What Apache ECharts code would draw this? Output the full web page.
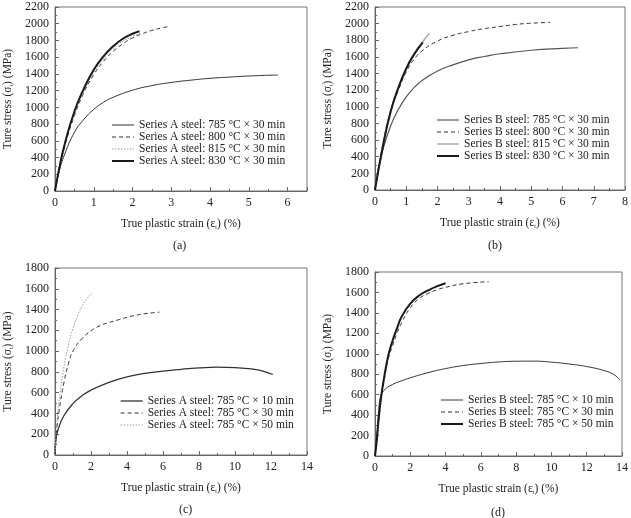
<!DOCTYPE html>
<html>
<head>
<meta charset="utf-8">
<script src="https://cdn.jsdelivr.net/npm/echarts@6/dist/echarts.min.js"></script>
<style>
    html, body { margin: 0; padding: 0; background: #fff; }
    #chart { width: 631px; height: 518px; }
</style>
</head>
<body>
<div id="chart"></div>
<script>
    // (a) Series A, 30 min, four temperatures  [strain %, stress MPa]
    const a785 = [[0,0],[0.1,220],[0.25,440],[0.5,700],[0.75,860],[1,975],[1.25,1060],[1.5,1120],[2,1205],[2.5,1260],[3,1298],[3.5,1325],[4,1347],[4.5,1362],[5,1375],[5.75,1387]];
    const a800 = [[0,0],[0.1,230],[0.25,530],[0.5,900],[0.75,1180],[1,1390],[1.25,1550],[1.5,1670],[1.75,1760],[2,1830],[2.25,1880],[2.5,1920],[2.75,1950],[2.93,1965]];
    const a815 = [[0,0],[0.1,240],[0.25,545],[0.5,925],[0.75,1200],[1,1420],[1.25,1580],[1.5,1700],[1.75,1790],[2,1850],[2.2,1885]];
    const a830 = [[0,0],[0.1,250],[0.25,560],[0.5,950],[0.75,1230],[1,1450],[1.25,1610],[1.5,1730],[1.75,1820],[2,1880],[2.18,1910]];

    // (b) Series B, 30 min, four temperatures
    const b785 = [[0,0],[0.1,230],[0.25,480],[0.5,770],[0.75,970],[1,1120],[1.25,1230],[1.5,1315],[2,1430],[2.5,1505],[3,1565],[3.5,1605],[4,1638],[5,1680],[6,1703],[6.5,1710]];
    const b800 = [[0,0],[0.25,550],[0.5,950],[0.75,1200],[1,1420],[1.25,1570],[1.5,1670],[2,1790],[2.5,1860],[3,1905],[3.5,1940],[4,1965],[4.5,1990],[5,2005],[5.6,2015]];
    const b815 = [[0,0],[0.25,530],[0.5,950],[0.75,1240],[1,1470],[1.25,1640],[1.5,1770],[1.74,1885]];
    const b830 = [[0,0],[0.25,520],[0.5,940],[0.75,1230],[1,1460],[1.25,1630],[1.53,1775]];

    // (c) Series A, 785 °C, three holding times
    const c10 = [[0,0],[0.05,150],[0.2,260],[0.5,380],[1,495],[1.5,570],[2,625],[3,700],[4,752],[5,785],[6,808],[7,825],[8,838],[9,845],[10,842],[11,826],[11.5,810],[12.1,775]];
    const c30 = [[0,0],[0.1,250],[0.25,450],[0.5,700],[0.75,880],[1,1000],[1.5,1120],[2,1195],[2.5,1245],[3,1275],[3.5,1300],[4,1325],[4.5,1345],[5,1360],[5.8,1375]];
    const c50 = [[0,0],[0.1,300],[0.25,550],[0.5,850],[0.75,1060],[1,1220],[1.25,1340],[1.5,1430],[1.75,1500],[2.07,1560]];

    // (d) Series B, 785 °C, three holding times
    const d10 = [[0,0],[0.1,200],[0.2,420],[0.3,570],[0.5,640],[1,700],[1.5,735],[2,765],[3,815],[4,855],[5,885],[6,905],[7,920],[8,927],[9,928],[10,918],[11,900],[12,875],[13,835],[13.5,800],[13.8,760],[13.9,740]];
    const d30 = [[0,0],[0.1,150],[0.2,340],[0.35,560],[0.5,720],[0.75,950],[1,1080],[1.25,1200],[1.5,1300],[2,1450],[2.5,1540],[3,1590],[3.5,1625],[4,1650],[5,1685],[6.44,1705]];
    const d50 = [[0,0],[0.1,150],[0.2,350],[0.35,580],[0.5,750],[0.75,980],[1,1130],[1.25,1250],[1.5,1360],[2,1490],[2.5,1570],[3,1620],[3.5,1660],[4,1690]];

    const namesA = ['Series A steel: 785 °C × 30 min', 'Series A steel: 800 °C × 30 min', 'Series A steel: 815 °C × 30 min', 'Series A steel: 830 °C × 30 min'];
    const namesB = ['Series B steel: 785 °C × 30 min', 'Series B steel: 800 °C × 30 min', 'Series B steel: 815 °C × 30 min', 'Series B steel: 830 °C × 30 min'];
    const namesC = ['Series A steel: 785 °C × 10 min', 'Series A steel: 785 °C × 30 min', 'Series A steel: 785 °C × 50 min'];
    const namesD = ['Series B steel: 785 °C × 10 min', 'Series B steel: 785 °C × 30 min', 'Series B steel: 785 °C × 50 min'];
    const captions = ['(a)', '(b)', '(c)', '(d)'];

    const FONT = 'Liberation Serif';
    const TXT = '#222';

    // line looks
    const thin = { color: '#333', width: 1, type: 'solid' };
    const dash = { color: '#333', width: 1, type: [4, 3] };
    const dot = { color: '#999', width: 1, type: [1.5, 1.5] };
    const thick = { color: '#1a1a1a', width: 2, type: 'solid' };
    const light = { color: '#aaa', width: 1.5, type: 'solid' };

    let myChart = echarts.init(document.getElementById('chart'), null, { renderer: 'canvas' });

    const grids = [
        { left: 55, top: 7, width: 252, height: 184 },
        { left: 375, top: 7, width: 250, height: 183 },
        { left: 55, top: 268, width: 252, height: 187 },
        { left: 375, top: 272, width: 250, height: 184 }
    ].map(g => Object.assign(g, { show: true, borderColor: '#777', borderWidth: 1 }));

    const nameStyle = {
        fontFamily: FONT, fontSize: 11.5, color: TXT,
        rich: { s: { fontFamily: FONT, fontSize: 6, color: TXT, verticalAlign: 'bottom', padding: [6, 0, 0, 0] } }
    };

    function xAxis(idx, max, interval) {
        return {
            type: 'value', gridIndex: idx, min: 0, max: max, interval: interval,
            name: 'True plastic strain (ε{s|t}) (%)',
            nameLocation: 'middle', nameGap: 27, nameTextStyle: nameStyle,
            axisLine: { lineStyle: { color: '#666', width: 1 } },
            axisTick: { inside: true, length: 4, lineStyle: { color: '#666' } },
            minorTick: { show: true, splitNumber: 2, length: 2, lineStyle: { color: '#666' } },
            axisLabel: { fontFamily: FONT, fontSize: 12, color: TXT, margin: 6, showMaxLabel: max % interval === 0 },
            splitLine: { show: false }
        };
    }

    function yAxis(idx, max) {
        return {
            type: 'value', gridIndex: idx, min: 0, max: max, interval: 200,
            name: 'Ture stress (σ{s|t}) (MPa)',
            nameLocation: 'middle', nameGap: 41, nameTextStyle: nameStyle,
            axisLine: { lineStyle: { color: '#666', width: 1 } },
            axisTick: { inside: true, length: 4, lineStyle: { color: '#666' } },
            minorTick: { show: true, splitNumber: 2, length: 2, lineStyle: { color: '#666' } },
            axisLabel: { fontFamily: FONT, fontSize: 12, color: TXT, margin: 6, formatter: v => String(v) },
            splitLine: { show: false }
        };
    }

    // series names get a panel prefix so that the same label can appear in two panels
    function line(panel, name, data, style) {
        let i = 'abcd'.indexOf(panel);
        return {
            name: panel + '_' + name, type: 'line', xAxisIndex: i, yAxisIndex: i,
            data: data, showSymbol: false, symbol: 'none', smooth: 0.5,
            lineStyle: style, itemStyle: { color: style.color }, z: style.width > 1.5 ? 3 : 2
        };
    }

    function legend(panel, names, left, top) {
        return {
            left: left, top: top, orient: 'vertical', itemWidth: 22, itemHeight: 9, itemGap: 0,
            selectedMode: false,
            itemStyle: { opacity: 0 },          // keep only the line sample, no marker dot
            lineStyle: { width: 'inherit' },    // same thickness as the curve
            data: names.map(n => panel + '_' + n),
            formatter: n => n.slice(2),
            textStyle: { fontFamily: FONT, fontSize: 11.5, color: TXT, lineHeight: 10.5 }
        };
    }

    let option = {
        animation: false,
        backgroundColor: '#fff',
        title: [
            { text: captions[0], left: 173, top: 240 },
            { text: captions[1], left: 488, top: 240 },
            { text: captions[2], left: 179, top: 504 },
            { text: captions[3], left: 491, top: 507 }
        ].map(t => Object.assign(t, { padding: 0, textStyle: { fontFamily: FONT, fontSize: 12, fontWeight: 'normal', color: TXT } })),
        grid: grids,
        xAxis: [xAxis(0, 6.5, 1), xAxis(1, 8, 1), xAxis(2, 14, 2), xAxis(3, 14, 2)],
        yAxis: [yAxis(0, 2200), yAxis(1, 2200), yAxis(2, 1800), yAxis(3, 1800)],
        legend: [
            legend('a', namesA, 106, 114),
            legend('b', namesB, 431, 109),
            legend('c', namesC, 115, 390),
            legend('d', namesD, 435, 389)
        ],
        series: [
            line('a', namesA[0], a785, thin),
            line('a', namesA[1], a800, dash),
            line('a', namesA[2], a815, dot),
            line('a', namesA[3], a830, thick),
            line('b', namesB[0], b785, { color: '#555', width: 1.2, type: 'solid' }),
            line('b', namesB[1], b800, dash),
            line('b', namesB[2], b815, light),
            line('b', namesB[3], b830, thick),
            line('c', namesC[0], c10, { color: '#333', width: 1.3, type: 'solid' }),
            line('c', namesC[1], c30, dash),
            line('c', namesC[2], c50, dot),
            line('d', namesD[0], d10, thin),
            line('d', namesD[1], d30, dash),
            line('d', namesD[2], d50, thick)
        ]
    };
    myChart.setOption(option);
</script>
</body>
</html>
